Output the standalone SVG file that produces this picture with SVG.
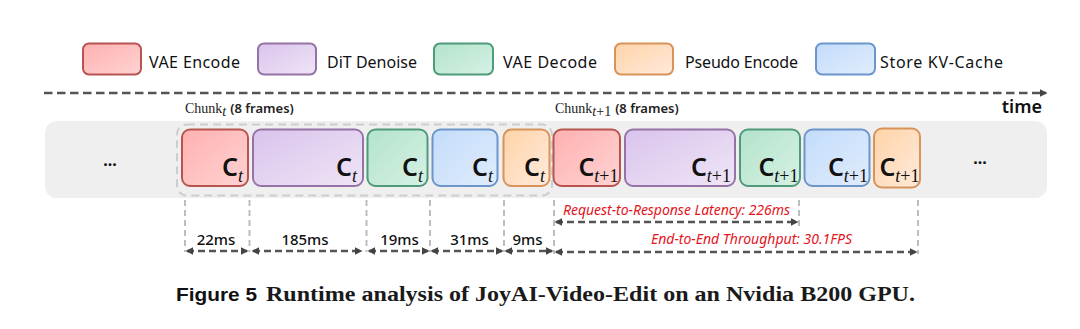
<svg xmlns="http://www.w3.org/2000/svg" width="1080" height="329" viewBox="0 0 1080 329">
<style>
.lg{font-family:"Noto Sans",sans-serif;font-size:16px;fill:#111}
.ms{font-family:"Noto Sans",sans-serif;font-size:15px;font-weight:500;fill:#111}
.red{font-family:"Noto Sans",sans-serif;font-size:14px;font-style:italic;fill:#e3151c}
.box{stroke-width:2}
.r{fill:url(#gr);stroke:#b85450}
.p{fill:url(#gp);stroke:#9673a6}
.g{fill:url(#gg);stroke:#4e9a7a}
.b{fill:url(#gb);stroke:#6c95cc}
.o{fill:url(#go);stroke:#d8935a}
.cl{font-family:"Noto Sans",sans-serif;font-size:25px;font-weight:600;fill:#111}
.sub{font-family:"Liberation Serif",serif;font-size:18px;fill:#111}
.vd{stroke:#bdbdbd;stroke-width:2;stroke-dasharray:6 4;fill:none}
.ar{stroke:#555;stroke-width:2.5;stroke-dasharray:7 4;fill:none}
.chunk{font-family:"Liberation Serif",serif;font-size:14px;fill:#222}
.fr{font-family:"Noto Sans",sans-serif;font-size:13px;font-weight:600;fill:#222}
</style>
<defs>
<linearGradient id="gr" x1="0" y1="0" x2="1" y2="1"><stop offset="0" stop-color="#ffb0b0"/><stop offset="1" stop-color="#ffd3d3"/></linearGradient>
<linearGradient id="gp" x1="0" y1="0" x2="1" y2="1"><stop offset="0" stop-color="#d9c3ec"/><stop offset="1" stop-color="#efe5f6"/></linearGradient>
<linearGradient id="gg" x1="0" y1="0" x2="1" y2="1"><stop offset="0" stop-color="#b3e3cc"/><stop offset="1" stop-color="#d6f1e4"/></linearGradient>
<linearGradient id="gb" x1="0" y1="0" x2="1" y2="1"><stop offset="0" stop-color="#c3dcfb"/><stop offset="1" stop-color="#e0ecfc"/></linearGradient>
<linearGradient id="go" x1="0" y1="0" x2="1" y2="1"><stop offset="0" stop-color="#ffd3a8"/><stop offset="1" stop-color="#ffeadb"/></linearGradient>
<marker id="ah" viewBox="0 0 10 10" refX="8" refY="5" markerWidth="3" markerHeight="3" orient="auto-start-reverse" markerUnits="strokeWidth">
<path d="M0,0 L10,5 L0,10 z" fill="#444"/>
</marker>
</defs>

<g id="legend">
<g id="lg-vae-encode"><rect class="box r" x="83" y="43.5" width="58" height="31" rx="6"/><text class="lg" x="149" y="68" textLength="91">VAE Encode</text></g>
<g id="lg-dit-denoise"><rect class="box p" x="258" y="43.5" width="58" height="31" rx="6"/><text class="lg" x="327" y="68" textLength="90">DiT Denoise</text></g>
<g id="lg-vae-decode"><rect class="box g" x="434" y="43.5" width="59" height="31" rx="6"/><text class="lg" x="503" y="68" textLength="94">VAE Decode</text></g>
<g id="lg-pseudo-encode"><rect class="box o" x="615" y="43.5" width="58" height="31" rx="6"/><text class="lg" x="685" y="68" textLength="113">Pseudo Encode</text></g>
<g id="lg-store-kv"><rect class="box b" x="816" y="43.5" width="59" height="31" rx="6"/><text class="lg" x="880" y="68" textLength="123">Store KV-Cache</text></g>
</g>

<g id="timeline">
<line x1="44" y1="93" x2="1046" y2="93" stroke="#555" stroke-width="2.5" stroke-dasharray="8.5 4.5" marker-end="url(#ah)"/>
<text x="1042" y="113" text-anchor="end" font-family="Noto Sans, sans-serif" font-size="18" font-weight="600" fill="#111">time</text>
</g>

<g id="band">
<rect x="45" y="121" width="1002" height="77" rx="12" fill="#efefef"/>
<text x="110" y="166" text-anchor="middle" font-family="Noto Sans, sans-serif" font-size="16" font-weight="700" fill="#111">...</text>
<text x="980" y="164" text-anchor="middle" font-family="Noto Sans, sans-serif" font-size="16" font-weight="700" fill="#111">...</text>
</g>

<g id="chunk-t">
<rect x="177" y="124.5" width="375" height="71" rx="10" fill="none" stroke="#cdcdcd" stroke-width="2" stroke-dasharray="8 5"/>
<text x="185" y="113"><tspan class="chunk">Chunk</tspan><tspan class="chunk" font-style="italic" font-size="10" dy="3">t</tspan><tspan class="fr" dy="-3" dx="4">(8 frames)</tspan></text>
</g>
<g id="chunk-t1">
<text x="555" y="113"><tspan class="chunk">Chunk</tspan><tspan class="chunk" font-style="italic" font-size="10" dy="3">t</tspan><tspan class="chunk" font-size="10">+1</tspan><tspan class="fr" dy="-3" dx="4">(8 frames)</tspan></text>
</g>

<g id="node-vae-encode-t"><rect class="box r" x="182" y="129.5" width="66" height="56.5" rx="8"/><text x="243" y="176" text-anchor="end"><tspan class="cl">C</tspan><tspan class="sub" font-style="italic" dy="6">t</tspan></text></g>
<g id="node-dit-denoise-t"><rect class="box p" x="253" y="129.5" width="110" height="56.5" rx="8"/><text x="357" y="176" text-anchor="end"><tspan class="cl">C</tspan><tspan class="sub" font-style="italic" dy="6">t</tspan></text></g>
<g id="node-vae-decode-t"><rect class="box g" x="367.5" y="129.5" width="60" height="56.5" rx="8"/><text x="423" y="176" text-anchor="end"><tspan class="cl">C</tspan><tspan class="sub" font-style="italic" dy="6">t</tspan></text></g>
<g id="node-store-kv-t"><rect class="box b" x="432.5" y="129.5" width="65" height="56.5" rx="8"/><text x="493" y="176" text-anchor="end"><tspan class="cl">C</tspan><tspan class="sub" font-style="italic" dy="6">t</tspan></text></g>
<g id="node-pseudo-encode-t"><rect class="box o" x="503.5" y="129.5" width="46" height="56.5" rx="8"/><text x="545" y="176" text-anchor="end"><tspan class="cl">C</tspan><tspan class="sub" font-style="italic" dy="6">t</tspan></text></g>

<g id="node-vae-encode-t1"><rect class="box r" x="553.5" y="129.5" width="66.5" height="56.5" rx="8"/><text x="618.5" y="176" text-anchor="end"><tspan class="cl">C</tspan><tspan class="sub" font-style="italic" dy="6">t</tspan><tspan class="sub">+1</tspan></text></g>
<g id="node-dit-denoise-t1"><rect class="box p" x="625" y="129.5" width="110" height="56.5" rx="8"/><text x="731" y="176" text-anchor="end"><tspan class="cl">C</tspan><tspan class="sub" font-style="italic" dy="6">t</tspan><tspan class="sub">+1</tspan></text></g>
<g id="node-vae-decode-t1"><rect class="box g" x="740" y="129.5" width="60" height="56.5" rx="8"/><text x="798.5" y="176" text-anchor="end"><tspan class="cl">C</tspan><tspan class="sub" font-style="italic" dy="6">t</tspan><tspan class="sub">+1</tspan></text></g>
<g id="node-store-kv-t1"><rect class="box b" x="804.5" y="129.5" width="65" height="56.5" rx="8"/><text x="868" y="176" text-anchor="end"><tspan class="cl">C</tspan><tspan class="sub" font-style="italic" dy="6">t</tspan><tspan class="sub">+1</tspan></text></g>
<g id="node-pseudo-encode-t1"><rect class="box o" x="874" y="128.5" width="46" height="59" rx="8"/><text x="919.5" y="176" text-anchor="end"><tspan class="cl">C</tspan><tspan class="sub" font-style="italic" dy="6">t</tspan><tspan class="sub">+1</tspan></text></g>

<g id="connectors">
<line class="vd" x1="185" y1="200" x2="185" y2="252"/>
<line class="vd" x1="249.5" y1="200" x2="249.5" y2="252"/>
<line class="vd" x1="366.5" y1="200" x2="366.5" y2="252"/>
<line class="vd" x1="430" y1="200" x2="430" y2="252"/>
<line class="vd" x1="504" y1="200" x2="504" y2="252"/>
<line class="vd" x1="554" y1="200" x2="554" y2="254"/>
<line class="vd" x1="799" y1="200" x2="799" y2="226"/>
<line class="vd" x1="918" y1="200" x2="918" y2="254"/>

<line class="ar" x1="187" y1="251" x2="247" y2="251" marker-start="url(#ah)" marker-end="url(#ah)"/>
<line class="ar" x1="253" y1="251" x2="361" y2="251" marker-start="url(#ah)" marker-end="url(#ah)"/>
<line class="ar" x1="369" y1="251" x2="428" y2="251" marker-start="url(#ah)" marker-end="url(#ah)"/>
<line class="ar" x1="432" y1="251" x2="502" y2="251" marker-start="url(#ah)" marker-end="url(#ah)"/>
<line class="ar" x1="506" y1="251" x2="552" y2="251" marker-start="url(#ah)" marker-end="url(#ah)"/>
<line class="ar" x1="556" y1="222" x2="797" y2="222" marker-start="url(#ah)" marker-end="url(#ah)"/>
<line class="ar" x1="556" y1="252" x2="916" y2="252" marker-start="url(#ah)" marker-end="url(#ah)"/>
</g>

<g id="labels">
<text class="ms" x="216" y="245" text-anchor="middle">22ms</text>
<text class="ms" x="305" y="245" text-anchor="middle">185ms</text>
<text class="ms" x="399.5" y="245" text-anchor="middle">19ms</text>
<text class="ms" x="469.5" y="245" text-anchor="middle">31ms</text>
<text class="ms" x="527.5" y="245" text-anchor="middle">9ms</text>
<text class="red" x="563" y="215" textLength="227">Request-to-Response Latency: 226ms</text>
<text class="red" x="651" y="244" textLength="201">End-to-End Throughput: 30.1FPS</text>
</g>

<g id="caption">
<text x="176" y="301" font-family="Liberation Sans, sans-serif" font-size="19" font-weight="700" fill="#111" textLength="81" lengthAdjust="spacingAndGlyphs">Figure 5</text>
<text x="266" y="301" font-family="Liberation Serif, serif" font-size="20" font-weight="700" fill="#1a1a1a" textLength="649" lengthAdjust="spacingAndGlyphs">Runtime analysis of JoyAI-Video-Edit on an Nvidia B200 GPU.</text>
</g>
</svg>
